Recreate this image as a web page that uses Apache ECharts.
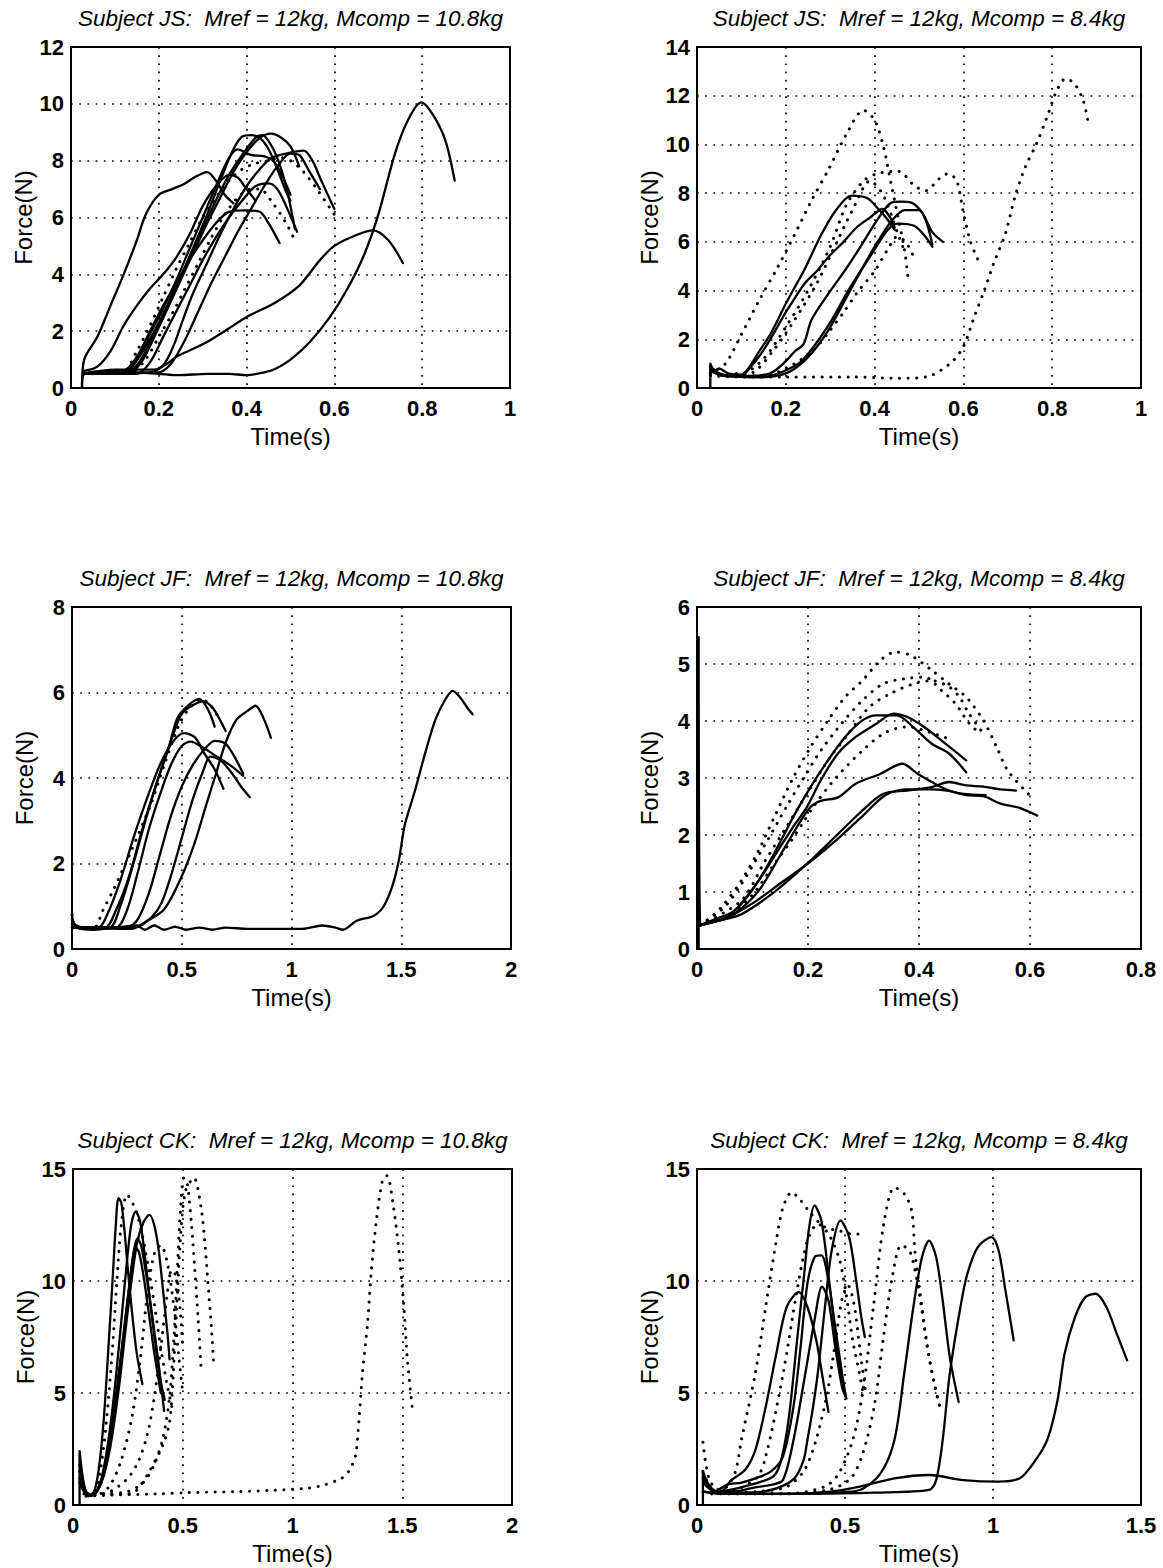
<!DOCTYPE html>
<html><head><meta charset="utf-8">
<script src="https://cdn.jsdelivr.net/npm/echarts@6/dist/echarts.min.js"></script>
<style>html,body{margin:0;padding:0;background:#fff}#c{width:1163px;height:1568px}</style>
</head><body><div id="c"></div>
<script>
// ---------- titles and axis ranges ----------
const titles = [
  'Subject JS:  Mref = 12kg, Mcomp = 10.8kg',
  'Subject JS:  Mref = 12kg, Mcomp = 8.4kg',
  'Subject JF:  Mref = 12kg, Mcomp = 10.8kg',
  'Subject JF:  Mref = 12kg, Mcomp = 8.4kg',
  'Subject CK:  Mref = 12kg, Mcomp = 10.8kg',
  'Subject CK:  Mref = 12kg, Mcomp = 8.4kg'
];
const xName = 'Time(s)';
const yName = 'Force(N)';
const xMax  = [1, 1, 2, 0.8, 2, 1.5];
const xStep = [0.2, 0.2, 0.5, 0.2, 0.5, 0.5];
const yMax  = [12, 14, 8, 6, 15, 15];
const yStep = [2, 2, 2, 1, 5, 5];

// ---------- Panel 1: JS, Mcomp 10.8kg  [time, force] ----------
const js108_a = [[0.025,0],[0.03,1.0],[0.06,1.8],[0.09,2.9],[0.12,4.0],[0.15,5.2],[0.17,6.1],[0.2,6.8],[0.23,7.0],[0.26,7.2],[0.28,7.4],[0.31,7.6],[0.33,7.3],[0.35,6.8],[0.37,6.5]];
const js108_b = [[0.025,0],[0.03,0.5],[0.1,0.6],[0.15,0.55],[0.2,0.5],[0.245,0.45],[0.31,0.5],[0.36,0.5],[0.4,0.45],[0.44,0.55],[0.465,0.67],[0.5,1.0],[0.543,1.6],[0.59,2.5],[0.63,3.5],[0.668,4.7],[0.7,6.1],[0.739,8.3],[0.77,9.5],[0.798,10.05],[0.825,9.6],[0.853,8.7],[0.874,7.3]];
const js108_c = [[0.03,0.5],[0.1,0.65],[0.19,0.65],[0.245,1.14],[0.308,1.6],[0.36,2.1],[0.4,2.5],[0.465,3.0],[0.52,3.6],[0.567,4.5],[0.6,5.0],[0.653,5.4],[0.688,5.55],[0.723,5.2],[0.756,4.4]];
const js108_d = [[0.03,0.6],[0.06,0.75],[0.09,1.3],[0.12,2.2],[0.15,2.9],[0.18,3.5],[0.21,4.0],[0.24,4.6],[0.27,5.4],[0.3,6.4],[0.33,7.1],[0.36,7.5],[0.38,7.4],[0.4,7.0],[0.42,6.6]];
const js108_e = [[0.03,0.5],[0.1,0.5],[0.13,0.6],[0.16,1.2],[0.19,2.0],[0.22,2.9],[0.25,3.9],[0.28,5.0],[0.31,6.1],[0.34,7.3],[0.37,8.4],[0.39,8.85],[0.41,8.9],[0.43,8.8],[0.45,8.4],[0.47,7.7],[0.49,6.9],[0.5,6.6]];
const js108_f = [[0.03,0.5],[0.12,0.5],[0.15,0.8],[0.18,1.6],[0.21,2.6],[0.24,3.6],[0.27,4.6],[0.3,5.6],[0.33,6.6],[0.36,7.5],[0.39,8.2],[0.42,8.8],[0.435,8.9],[0.45,8.7],[0.47,8.1],[0.49,7.1],[0.51,5.6]];
const js108_g = [[0.03,0.5],[0.13,0.5],[0.16,0.9],[0.19,1.8],[0.22,2.8],[0.25,3.8],[0.28,4.8],[0.31,5.8],[0.34,6.7],[0.37,7.6],[0.4,8.3],[0.43,8.8],[0.455,8.95],[0.48,8.8],[0.5,8.5],[0.52,7.8]];
const js108_h = [[0.03,0.5],[0.12,0.5],[0.15,1.0],[0.18,1.9],[0.21,2.8],[0.24,3.8],[0.27,4.9],[0.3,6.0],[0.33,7.1],[0.36,8.1],[0.38,8.4],[0.41,8.2],[0.44,8.15],[0.46,8.0],[0.48,7.5],[0.5,6.8]];
const js108_i = [[0.03,0.5],[0.2,0.55],[0.23,0.9],[0.26,1.7],[0.29,2.7],[0.32,3.7],[0.35,4.6],[0.38,5.5],[0.41,6.3],[0.44,7.1],[0.47,7.8],[0.5,8.25],[0.52,8.2],[0.54,7.7],[0.567,7.0]];
const js108_j = [[0.03,0.5],[0.18,0.55],[0.21,0.8],[0.234,1.5],[0.255,2.4],[0.277,3.3],[0.31,4.4],[0.34,5.4],[0.37,6.3],[0.4,7.1],[0.43,7.7],[0.457,8.1],[0.49,8.25],[0.53,8.35],[0.55,8.0],[0.57,7.3],[0.6,6.3]];
const js108_k = [[0.03,0.5],[0.15,0.5],[0.18,0.9],[0.21,1.8],[0.24,2.7],[0.27,3.6],[0.3,4.5],[0.33,5.3],[0.36,6.0],[0.39,6.6],[0.42,7.1],[0.45,7.2],[0.47,7.0],[0.49,6.4],[0.515,5.5]];
const js108_l = [[0.03,0.5],[0.12,0.6],[0.15,1.1],[0.18,2.0],[0.21,2.9],[0.24,3.7],[0.27,4.5],[0.3,5.2],[0.33,5.8],[0.36,6.2],[0.4,6.25],[0.43,6.2],[0.45,5.8],[0.475,5.1]];
const js108_m = [[0.03,0.5],[0.12,0.6],[0.15,1.3],[0.18,2.2],[0.21,3.2],[0.24,4.2],[0.27,5.1],[0.3,6.0],[0.33,6.7],[0.36,7.3],[0.39,7.7],[0.42,7.9],[0.45,8.0],[0.48,8.1],[0.5,8.0],[0.53,7.6],[0.56,7.0],[0.6,6.1]];
const js108_n = [[0.03,0.5],[0.14,0.6],[0.17,1.0],[0.2,1.8],[0.23,2.6],[0.26,3.5],[0.29,4.4],[0.32,5.3],[0.35,6.1],[0.38,6.7],[0.41,7.0],[0.43,7.0],[0.46,6.5],[0.49,5.8],[0.51,5.2]];

// ---------- Panel 2: JS, Mcomp 8.4kg ----------
const js84_a = [[0.03,0],[0.03,1.0],[0.04,0.7],[0.05,0.8],[0.07,0.6],[0.1,0.55],[0.118,0.86],[0.14,1.5],[0.165,2.2],[0.204,3.6],[0.243,4.9],[0.28,6.3],[0.313,7.3],[0.348,7.9],[0.383,7.8],[0.406,7.4],[0.43,6.9],[0.445,6.5]];
const js84_b = [[0.03,0.9],[0.05,0.6],[0.08,0.5],[0.1,0.5],[0.118,0.8],[0.14,1.3],[0.165,2.0],[0.19,2.8],[0.21,3.4],[0.243,4.3],[0.27,4.8],[0.297,5.4],[0.33,6.0],[0.36,6.6],[0.39,7.0],[0.418,7.35],[0.435,7.0],[0.445,6.6]];
const js84_c = [[0.03,0.8],[0.06,0.5],[0.12,0.5],[0.165,0.6],[0.2,1.1],[0.22,1.5],[0.24,1.8],[0.258,2.8],[0.297,3.9],[0.336,4.9],[0.375,6.0],[0.406,6.9],[0.437,7.6],[0.46,7.65],[0.484,7.6],[0.507,7.2],[0.53,6.4],[0.554,6.0]];
const js84_d = [[0.03,0.8],[0.06,0.5],[0.15,0.45],[0.2,0.6],[0.235,1.0],[0.266,1.6],[0.297,2.4],[0.336,3.7],[0.375,5.0],[0.41,6.1],[0.44,6.9],[0.468,7.3],[0.5,7.3],[0.515,6.9],[0.53,5.9]];
const js84_e = [[0.03,0.7],[0.06,0.5],[0.15,0.45],[0.22,0.9],[0.25,1.4],[0.297,2.6],[0.344,4.1],[0.39,5.4],[0.43,6.5],[0.453,6.75],[0.49,6.65],[0.515,6.2],[0.53,5.8]];
const js84_p = [[0.03,0.6],[0.064,1.0],[0.1,2.2],[0.14,3.6],[0.18,4.9],[0.22,6.3],[0.258,7.7],[0.297,9.0],[0.336,10.4],[0.375,11.4],[0.4,11.0],[0.42,9.9],[0.437,8.4],[0.453,7.0],[0.468,5.6],[0.476,4.4]];
const js84_q = [[0.03,0.5],[0.1,0.45],[0.2,0.45],[0.35,0.45],[0.45,0.4],[0.515,0.45],[0.57,1.0],[0.6,1.7],[0.624,2.9],[0.647,4.0],[0.67,5.2],[0.694,6.3],[0.717,7.9],[0.74,9.1],[0.764,10.0],[0.788,11.1],[0.81,12.2],[0.83,12.7],[0.85,12.5],[0.87,11.8],[0.88,11.0]];
const js84_r = [[0.03,0.6],[0.1,0.6],[0.15,1.2],[0.2,2.5],[0.25,4.0],[0.3,5.8],[0.336,7.5],[0.375,8.5],[0.406,8.8],[0.453,8.9],[0.49,8.3],[0.515,8.1],[0.546,8.6],[0.566,8.8],[0.585,8.5],[0.6,7.2],[0.616,6.0],[0.632,5.3]];
const js84_s = [[0.03,0.5],[0.12,0.6],[0.17,1.5],[0.22,2.8],[0.27,4.3],[0.31,5.8],[0.35,7.3],[0.39,8.5],[0.42,7.9],[0.453,6.3],[0.47,5.5]];
const js84_t = [[0.03,0.5],[0.15,0.5],[0.22,1.0],[0.27,1.7],[0.297,2.3],[0.33,3.1],[0.36,3.9],[0.4,4.8],[0.43,5.7],[0.45,6.2],[0.47,6.0],[0.49,5.3]];

// ---------- Panel 3: JF, Mcomp 10.8kg ----------
const jf108_a = [[0,0.8],[0.02,0.5],[0.1,0.5],[0.14,0.9],[0.19,1.4],[0.27,2.3],[0.36,3.4],[0.42,4.3],[0.484,5.2],[0.53,5.6],[0.59,5.85],[0.63,5.7],[0.67,5.4]];
const jf108_b = [[0,0.7],[0.03,0.5],[0.15,0.5],[0.2,0.9],[0.26,1.7],[0.32,2.8],[0.38,3.8],[0.44,4.7],[0.48,5.4],[0.53,5.7],[0.58,5.85],[0.62,5.6],[0.65,5.2]];
const jf108_c = [[0,0.6],[0.05,0.5],[0.17,0.5],[0.22,1.0],[0.28,2.0],[0.34,3.1],[0.4,4.1],[0.46,5.0],[0.5,5.5],[0.55,5.7],[0.6,5.8],[0.64,5.65],[0.67,5.4],[0.7,5.1]];
const jf108_d = [[0,0.5],[0.12,0.5],[0.16,0.8],[0.22,1.6],[0.28,2.6],[0.34,3.5],[0.4,4.3],[0.46,4.85],[0.51,5.05],[0.56,4.95],[0.6,4.6],[0.65,4.2],[0.69,3.75]];
const jf108_e = [[0,0.5],[0.2,0.5],[0.25,0.9],[0.3,1.8],[0.35,2.8],[0.4,3.6],[0.45,4.3],[0.5,4.75],[0.54,4.85],[0.6,4.7],[0.66,4.5],[0.72,4.3],[0.78,4.05]];
const jf108_f = [[0,0.5],[0.25,0.5],[0.3,0.7],[0.35,1.3],[0.4,2.2],[0.45,3.1],[0.5,3.8],[0.55,4.3],[0.6,4.65],[0.65,4.87],[0.7,4.8],[0.74,4.5],[0.78,4.1]];
const jf108_g = [[0,0.5],[0.27,0.5],[0.33,0.6],[0.4,1.0],[0.45,1.7],[0.5,2.6],[0.55,3.5],[0.6,4.2],[0.63,4.5],[0.68,4.4],[0.73,4.1],[0.77,3.8],[0.81,3.55]];
const jf108_h = [[0,0.5],[0.27,0.47],[0.33,0.62],[0.42,0.93],[0.5,1.7],[0.56,2.5],[0.61,3.35],[0.656,4.1],[0.7,4.83],[0.75,5.37],[0.8,5.57],[0.836,5.69],[0.875,5.37],[0.906,4.94]];
const jf108_i = [[0,0.8],[0.02,0.5],[0.1,0.45],[0.2,0.5],[0.297,0.55],[0.33,0.45],[0.375,0.55],[0.42,0.45],[0.47,0.52],[0.52,0.45],[0.58,0.5],[0.64,0.45],[0.7,0.5],[0.8,0.47],[0.92,0.47],[1.05,0.47],[1.14,0.55],[1.2,0.5],[1.234,0.45],[1.297,0.66],[1.375,0.78],[1.42,1.0],[1.46,1.48],[1.49,2.1],[1.516,2.9],[1.56,3.66],[1.61,4.6],[1.656,5.37],[1.7,5.83],[1.734,6.04],[1.766,5.9],[1.8,5.65],[1.825,5.49]];

// ---------- Panel 4: JF, Mcomp 8.4kg ----------
const jf84_a = [[0.003,0],[0.003,5.47],[0.006,0.42],[0.03,0.48],[0.049,0.53],[0.08,0.79],[0.111,1.2],[0.142,1.73],[0.173,2.31],[0.2045,2.84],[0.236,3.31],[0.267,3.72],[0.298,4.01],[0.323,4.1],[0.36,4.1],[0.39,3.89],[0.423,3.6],[0.454,3.43],[0.485,3.1]];
const jf84_b = [[0.006,0.42],[0.04,0.55],[0.067,0.67],[0.111,1.2],[0.142,1.67],[0.173,2.14],[0.198,2.49],[0.223,2.96],[0.254,3.43],[0.286,3.72],[0.323,3.95],[0.354,4.13],[0.379,4.07],[0.41,3.89],[0.448,3.6],[0.485,3.31]];
const jf84_c = [[0.006,0.42],[0.04,0.5],[0.067,0.61],[0.111,1.02],[0.148,1.61],[0.18,2.14],[0.2045,2.49],[0.223,2.6],[0.254,2.66],[0.286,2.9],[0.33,3.07],[0.37,3.25],[0.398,3.07],[0.423,2.93],[0.454,2.78],[0.485,2.7],[0.516,2.68],[0.547,2.55],[0.58,2.48],[0.613,2.34]];
const jf84_d = [[0.006,0.42],[0.04,0.5],[0.08,0.61],[0.142,1.02],[0.2045,1.55],[0.248,1.96],[0.298,2.43],[0.335,2.72],[0.379,2.78],[0.423,2.84],[0.454,2.93],[0.485,2.87],[0.516,2.85],[0.547,2.8],[0.575,2.78]];
const jf84_e = [[0.006,0.42],[0.05,0.53],[0.1,0.8],[0.15,1.15],[0.2,1.5],[0.25,1.9],[0.3,2.35],[0.34,2.7],[0.38,2.8],[0.42,2.8],[0.45,2.78],[0.48,2.72],[0.52,2.7]];
const jf84_p = [[0.006,0.42],[0.03,0.6],[0.049,0.79],[0.08,1.2],[0.111,1.73],[0.142,2.37],[0.173,3.0],[0.2045,3.54],[0.236,4.01],[0.267,4.42],[0.298,4.71],[0.33,5.06],[0.357,5.21],[0.385,5.15],[0.423,4.89],[0.454,4.65],[0.485,4.42],[0.516,4.01],[0.54,3.54],[0.56,3.13],[0.597,2.72]];
const jf84_q = [[0.006,0.42],[0.049,0.73],[0.08,1.14],[0.123,1.84],[0.161,2.49],[0.192,3.0],[0.223,3.48],[0.26,3.95],[0.298,4.36],[0.335,4.65],[0.373,4.74],[0.41,4.77],[0.44,4.54],[0.466,4.3],[0.491,3.95],[0.51,3.78]];
const jf84_r = [[0.006,0.42],[0.08,0.85],[0.123,1.55],[0.161,2.14],[0.198,2.72],[0.236,3.31],[0.273,3.78],[0.31,4.24],[0.348,4.48],[0.39,4.65],[0.423,4.71],[0.454,4.6],[0.473,4.42],[0.49,4.13],[0.516,3.78]];
const jf84_s = [[0.006,0.42],[0.06,0.6],[0.1,0.95],[0.14,1.5],[0.17,1.9],[0.19,2.2],[0.21,2.5],[0.25,3.0],[0.3,3.5],[0.34,3.8],[0.38,3.9],[0.42,3.8],[0.45,3.7]];

// ---------- Panel 5: CK, Mcomp 10.8kg ----------
const ck108_a = [[0.03,0],[0.03,2.4],[0.045,1.2],[0.06,0.6],[0.08,0.45],[0.1,0.7],[0.12,1.8],[0.14,3.8],[0.16,6.8],[0.18,10.0],[0.195,12.5],[0.207,13.7],[0.22,13.5],[0.235,12.2],[0.25,10.5],[0.27,8.5],[0.29,6.8],[0.316,5.4]];
const ck108_b = [[0.03,1.8],[0.05,0.8],[0.07,0.45],[0.1,0.5],[0.13,1.2],[0.16,2.8],[0.19,5.2],[0.22,8.2],[0.245,10.8],[0.265,12.5],[0.285,13.1],[0.305,12.7],[0.325,11.3],[0.35,9.2],[0.375,7.2],[0.4,5.5],[0.418,4.7]];
const ck108_c = [[0.03,1.2],[0.06,0.5],[0.09,0.45],[0.13,1.0],[0.17,2.6],[0.21,5.3],[0.25,8.7],[0.29,11.6],[0.32,12.6],[0.348,12.95],[0.37,12.5],[0.39,11.4],[0.41,9.6],[0.43,7.7],[0.44,6.5]];
const ck108_d = [[0.03,1.0],[0.07,0.4],[0.1,0.5],[0.14,1.5],[0.18,3.8],[0.22,6.8],[0.25,9.3],[0.275,11.2],[0.293,11.9],[0.31,11.6],[0.33,10.5],[0.36,8.5],[0.39,6.3],[0.415,4.2]];
const ck108_e = [[0.03,1.0],[0.07,0.4],[0.11,0.6],[0.15,1.8],[0.19,4.3],[0.23,7.5],[0.26,10.0],[0.285,11.5],[0.3,11.3],[0.32,10.3],[0.345,8.6],[0.37,6.8],[0.4,5.0]];
const ck108_p = [[0.06,0.4],[0.15,0.5],[0.25,0.6],[0.32,1.0],[0.37,1.8],[0.41,3.0],[0.44,4.8],[0.46,7.5],[0.475,10.5],[0.49,13.2],[0.505,14.6],[0.52,14.4],[0.54,12.5],[0.555,10.5],[0.57,8.3],[0.583,6.2]];
const ck108_q = [[0.06,0.4],[0.15,0.45],[0.25,0.5],[0.285,0.6],[0.348,1.5],[0.41,2.7],[0.44,3.7],[0.457,5.9],[0.473,8.9],[0.489,11.8],[0.512,14.0],[0.551,14.6],[0.583,13.3],[0.6,11.8],[0.614,10.0],[0.63,8.0],[0.642,6.1]];
const ck108_r = [[0.06,0.4],[0.2,0.45],[0.4,0.5],[0.52,0.55],[0.755,0.6],[0.9,0.65],[1.068,0.75],[1.146,0.9],[1.225,1.2],[1.256,1.5],[1.287,2.2],[1.303,3.8],[1.319,5.9],[1.342,8.1],[1.358,10.3],[1.381,12.6],[1.41,14.5],[1.43,14.7],[1.46,13.3],[1.483,11.5],[1.507,8.9],[1.522,6.65],[1.546,4.3]];
const ck108_s = [[0.03,1.5],[0.06,0.5],[0.09,0.5],[0.12,1.3],[0.15,3.5],[0.18,7.0],[0.2,10.0],[0.22,12.5],[0.246,13.85],[0.28,13.3],[0.31,12.3],[0.34,10.8],[0.37,9.0],[0.4,7.0],[0.43,5.3],[0.45,4.4]];
const ck108_t = [[0.05,0.5],[0.12,0.5],[0.17,0.9],[0.22,2.0],[0.27,4.0],[0.31,6.8],[0.34,9.5],[0.37,11.2],[0.4,11.6],[0.43,10.8],[0.46,8.8],[0.48,6.8],[0.5,5.0]];
const ck108_u = [[0.1,0.45],[0.17,0.6],[0.25,1.2],[0.3,2.0],[0.34,3.2],[0.37,4.8],[0.4,7.0],[0.43,9.5],[0.45,10.5],[0.47,10.2],[0.49,8.5],[0.5,7.0]];

// ---------- Panel 6: CK, Mcomp 8.4kg ----------
const ck84_a = [[0.02,0],[0.02,1.5],[0.04,0.9],[0.07,0.6],[0.12,0.7],[0.18,0.9],[0.23,1.1],[0.26,1.3],[0.28,1.8],[0.3,3.0],[0.315,4.4],[0.338,7.35],[0.362,10.3],[0.379,12.4],[0.397,13.37],[0.42,12.7],[0.444,10.3],[0.467,7.65],[0.485,5.87],[0.502,4.83]];
const ck84_b = [[0.02,1.2],[0.05,0.7],[0.08,0.5],[0.15,0.55],[0.22,0.6],[0.28,0.8],[0.33,1.2],[0.36,2.0],[0.373,2.9],[0.39,4.2],[0.408,5.87],[0.432,8.8],[0.455,11.36],[0.485,12.7],[0.514,11.96],[0.538,10.0],[0.555,8.4],[0.567,7.5]];
const ck84_c = [[0.02,1.2],[0.06,0.6],[0.1,0.9],[0.15,1.0],[0.2,1.2],[0.25,1.5],[0.29,2.15],[0.326,4.4],[0.35,7.05],[0.373,9.88],[0.397,11.06],[0.42,11.14],[0.444,10.0],[0.467,7.95],[0.49,5.87],[0.502,4.9]];
const ck84_d = [[0.02,1.4],[0.05,0.7],[0.08,0.6],[0.115,1.1],[0.162,1.56],[0.197,2.45],[0.232,4.38],[0.268,6.76],[0.303,8.84],[0.344,9.5],[0.373,8.84],[0.403,7.35],[0.426,5.57],[0.444,4.16]];
const ck84_e = [[0.02,1.0],[0.06,0.6],[0.12,0.6],[0.2,0.8],[0.25,0.9],[0.29,1.11],[0.326,2.9],[0.362,5.57],[0.397,8.24],[0.4225,9.75],[0.444,9.13],[0.467,7.05],[0.49,5.27],[0.505,4.75]];
const ck84_f = [[0.02,0.6],[0.1,0.5],[0.3,0.5],[0.45,0.55],[0.55,0.67],[0.62,1.41],[0.667,2.9],[0.7,5.87],[0.731,8.84],[0.76,11.06],[0.784,11.8],[0.808,11.06],[0.83,9.13],[0.854,6.6],[0.884,4.6]];
const ck84_g = [[0.02,0.6],[0.1,0.5],[0.4,0.5],[0.6,0.55],[0.784,0.67],[0.808,1.11],[0.83,2.9],[0.854,5.87],[0.89,8.84],[0.913,10.3],[0.948,11.5],[0.995,11.96],[1.019,11.36],[1.042,9.58],[1.07,7.35]];
const ck84_h = [[0.02,0.6],[0.1,0.5],[0.3,0.5],[0.45,0.6],[0.55,0.82],[0.667,1.19],[0.784,1.34],[0.9,1.11],[1.019,1.04],[1.09,1.19],[1.136,1.86],[1.183,2.9],[1.218,4.68],[1.242,6.76],[1.277,8.39],[1.312,9.28],[1.347,9.43],[1.383,8.84],[1.418,7.65],[1.453,6.46]];
const ck84_p = [[0.02,2.8],[0.04,1.2],[0.07,0.7],[0.1,0.8],[0.13,1.5],[0.15,2.9],[0.197,5.87],[0.232,8.84],[0.268,11.8],[0.291,13.3],[0.32,13.96],[0.35,13.6],[0.385,13.0],[0.432,12.4],[0.479,12.25],[0.526,12.1],[0.56,12.1]];
const ck84_q = [[0.05,0.5],[0.3,0.5],[0.432,0.82],[0.479,1.41],[0.526,2.9],[0.561,5.12],[0.596,8.84],[0.631,12.55],[0.667,14.18],[0.7,13.9],[0.725,13.14],[0.737,11.2],[0.76,8.84],[0.784,6.6],[0.82,4.38]];
const ck84_r = [[0.05,0.5],[0.3,0.5],[0.45,0.7],[0.52,1.2],[0.56,2.3],[0.6,4.5],[0.63,7.5],[0.66,10.2],[0.69,11.6],[0.72,11.3],[0.75,9.5],[0.775,7.3],[0.8,5.5],[0.82,4.4]];
const ck84_s = [[0.02,1.5],[0.06,0.6],[0.1,0.6],[0.2,1.2],[0.232,2.15],[0.291,5.87],[0.338,9.58],[0.373,11.8],[0.408,12.55],[0.444,12.1],[0.479,11.06],[0.502,9.58],[0.526,7.35],[0.549,5.87],[0.561,4.98]];
const ck84_t = [[0.05,0.5],[0.2,0.6],[0.3,0.8],[0.36,1.5],[0.4,2.8],[0.44,5.0],[0.47,7.5],[0.49,9.2],[0.51,9.8],[0.53,9.0],[0.55,7.0],[0.57,5.0]];

// ---------- which curves belong to which panel ----------
const solidCurves = [
  [js108_a, js108_b, js108_c, js108_d, js108_e, js108_f, js108_g, js108_h, js108_i, js108_j, js108_k, js108_l],
  [js84_a, js84_b, js84_c, js84_d, js84_e],
  [jf108_b, jf108_c, jf108_d, jf108_e, jf108_f, jf108_g, jf108_h, jf108_i],
  [jf84_a, jf84_b, jf84_c, jf84_d, jf84_e],
  [ck108_a, ck108_b, ck108_c, ck108_d, ck108_e],
  [ck84_a, ck84_b, ck84_c, ck84_d, ck84_e, ck84_f, ck84_g, ck84_h]
];
const dottedCurves = [
  [js108_m, js108_n],
  [js84_p, js84_q, js84_r, js84_s, js84_t],
  [jf108_a],
  [jf84_p, jf84_q, jf84_r, jf84_s],
  [ck108_p, ck108_q, ck108_r, ck108_s, ck108_t, ck108_u],
  [ck84_p, ck84_q, ck84_r, ck84_s, ck84_t]
];

// ---------- layout (pixels) ----------
const gridBoxes = [
  {left: 71,  top: 47,   width: 439, height: 341},
  {left: 697, top: 47,   width: 444, height: 341},
  {left: 72,  top: 607,  width: 439, height: 342},
  {left: 697, top: 607,  width: 444, height: 342},
  {left: 73,  top: 1169, width: 439, height: 336},
  {left: 697, top: 1169, width: 444, height: 336}
];

const FONT = '"Liberation Sans", Arial, Helvetica, sans-serif';
const chart = echarts.init(document.getElementById('c'), null, {renderer: 'svg', width: 1163, height: 1568});

const grid = [], xAxis = [], yAxis = [], title = [], series = [];
gridBoxes.forEach((g, i) => {
  grid.push(Object.assign({show: true, borderColor: '#000', borderWidth: 2, backgroundColor: '#fff', containLabel: false}, g));
  title.push({
    text: titles[i], left: g.left + g.width / 2, top: g.top - 40, padding: 0, textAlign: 'center',
    textStyle: {fontFamily: FONT, fontStyle: 'italic', fontWeight: 'normal', fontSize: 22.5, color: '#000'}
  });
  const split = {show: true, lineStyle: {color: '#000', width: 1.7, type: [1.7, 6.5]}};
  xAxis.push({
    type: 'value', gridIndex: i, min: 0, max: xMax[i], interval: xStep[i],
    name: xName, nameLocation: 'middle', nameGap: 36,
    nameTextStyle: {fontFamily: FONT, fontSize: 24, color: '#000'},
    axisLine: {show: false}, axisTick: {show: false},
    axisLabel: {fontFamily: FONT, fontSize: 22, fontWeight: 'bold', color: '#000', margin: 9},
    splitLine: split
  });
  yAxis.push({
    type: 'value', gridIndex: i, min: 0, max: yMax[i], interval: yStep[i],
    name: yName, nameLocation: 'middle', nameGap: 36,
    nameTextStyle: {fontFamily: FONT, fontSize: 24, color: '#000'},
    axisLine: {show: false}, axisTick: {show: false},
    axisLabel: {fontFamily: FONT, fontSize: 22, fontWeight: 'bold', color: '#000', margin: 7},
    splitLine: split
  });
  solidCurves[i].forEach(d => series.push({
    type: 'line', xAxisIndex: i, yAxisIndex: i, data: d, showSymbol: false, symbol: 'none',
    smooth: 0.3, silent: true, z: 3,
    lineStyle: {color: '#000', width: 2.3, type: 'solid', cap: 'round', join: 'round'}
  }));
  dottedCurves[i].forEach(d => series.push({
    type: 'line', xAxisIndex: i, yAxisIndex: i, data: d, showSymbol: false, symbol: 'none',
    smooth: 0.3, silent: true, z: 3,
    lineStyle: {color: '#000', width: 3, type: [0.1, 8.5], cap: 'round'}
  }));
});

chart.setOption({
  animation: false, backgroundColor: '#fff',
  title, grid, xAxis, yAxis, series
});
</script></body></html>
